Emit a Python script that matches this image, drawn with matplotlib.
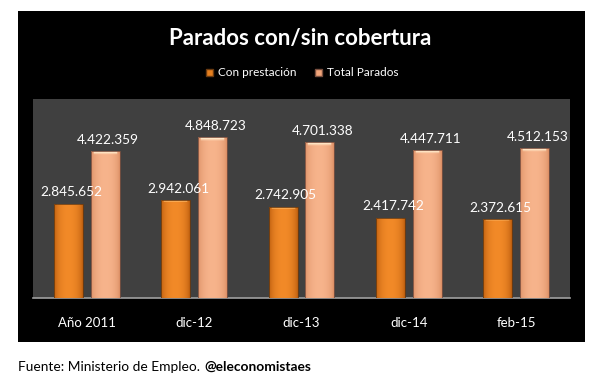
import matplotlib
matplotlib.use("Agg")
import matplotlib.pyplot as plt
from matplotlib.patches import Rectangle, Patch
import numpy as np

categories = ["Año 2011", "dic-12", "dic-13", "dic-14", "feb-15"]
con_prestacion = [2845652, 2942061, 2742905, 2417742, 2372615]
total_parados = [4422359, 4848723, 4701338, 4447711, 4512153]
series_names = ["Con prestación", "Total Parados"]

def fmt(v):
    return f"{v:,}".replace(",", ".")

W, H = 601, 379
fig = plt.figure(figsize=(W / 100, H / 100), dpi=100)
fig.patch.set_facecolor("white")

# black panel
fig.patches.append(Rectangle((18 / W, 1 - 342 / H), (585 - 18) / W, (342 - 11) / H,
                             transform=fig.transFigure, facecolor="black", edgecolor="none", zorder=-5))

ax = fig.add_axes([33 / W, 1 - 298 / H, (570 - 33) / W, (298 - 99) / H])
ax.set_zorder(2)
ax.set_facecolor("#404040")
ax.set_xlim(-0.5, len(categories) - 0.5)
ax.set_ylim(0, 6000000)

x = np.arange(len(categories))
bw = 0.27
off = 0.172

def grad_bars(bars, c_edge, c_mid, c_top):
    for b in bars:
        x0, y0 = b.get_x(), b.get_y()
        w, h = b.get_width(), b.get_height()
        n = 64
        t = np.linspace(0, 1, n)
        prof = 1 - (2 * t - 1) ** 2
        ce = np.array(matplotlib.colors.to_rgb(c_edge))
        cm = np.array(matplotlib.colors.to_rgb(c_mid))
        img = ce[None, :] + (cm - ce)[None, :] * prof[:, None] ** 0.6
        img = np.tile(img[None, :, :], (60, 1, 1))
        ct = np.array(matplotlib.colors.to_rgb(c_top))
        img[-1:, 6:-6, :] = ct
        im = ax.imshow(img, extent=(x0, x0 + w, y0, y0 + h), origin="lower",
                       aspect="auto", zorder=3, interpolation="bilinear")
        im.set_clip_path(b)
        b.set_facecolor("none")

b1 = ax.bar(x - off, con_prestacion, bw, color="#E57F1E", edgecolor="#6a3a10",
            linewidth=0.6, zorder=4, label=series_names[0])
b2 = ax.bar(x + off, total_parados, bw, color="#F2A57A", edgecolor="#7a5040",
            linewidth=0.6, zorder=4, label=series_names[1])
grad_bars(b1, "#B85A0C", "#F28A28", "#FFC070")
grad_bars(b2, "#D98C62", "#F7B48C", "#FFE8C8")
ax.set_ylim(0, 6000000)
ax.set_xlim(-0.5, len(categories) - 0.5)

for bars, vals in ((b1, con_prestacion), (b2, total_parados)):
    for b, v in zip(bars, vals):
        ax.annotate(fmt(v), (b.get_x() + b.get_width() / 2, b.get_height()),
                    xytext=(2, 4), textcoords="offset points", ha="center", va="bottom",
                    color="white", fontsize=9.8, family="Lato", zorder=6)

for s in ("top", "right", "left"):
    ax.spines[s].set_visible(False)
ax.spines["bottom"].set_color("#a0a0a0")
ax.spines["bottom"].set_linewidth(1.2)
ax.set_yticks([])
ax.set_xticks(x)
ax.set_xticklabels(categories, color="white", fontsize=9.5, family="Lato")
ax.tick_params(axis="x", length=0, pad=14)

fig.text(300 / W, 1 - 38 / H, "Parados con/sin cobertura", ha="center", va="center",
         color="white", fontsize=16, fontweight="bold", family="Lato")

handles = [Patch(facecolor="#E57F1E", edgecolor="#6a3a10"),
           Patch(facecolor="#F2A57A", edgecolor="#7a5040")]
leg = fig.legend(handles, series_names, loc="center", bbox_to_anchor=(302 / W, 1 - 73 / H),
                 ncol=2, frameon=False, handlelength=0.6, handleheight=0.6,
                 handletextpad=0.4, columnspacing=1.6, prop={"family": "Lato", "size": 8.5})
for t in leg.get_texts():
    t.set_color("white")

t1 = fig.text(18 / W, 1 - 367 / H, "Fuente: Ministerio de Empleo.", ha="left", va="center",
              color="black", fontsize=9.9, family="Lato")
fig.canvas.draw()
ext = t1.get_window_extent()
fig.text((ext.x1 + 4) / W, 1 - 367 / H, "@eleconomistaes", ha="left", va="center",
         color="black", fontsize=9.9, fontweight="bold", family="Lato")

fig.savefig("out.png", dpi=100, facecolor="white")
